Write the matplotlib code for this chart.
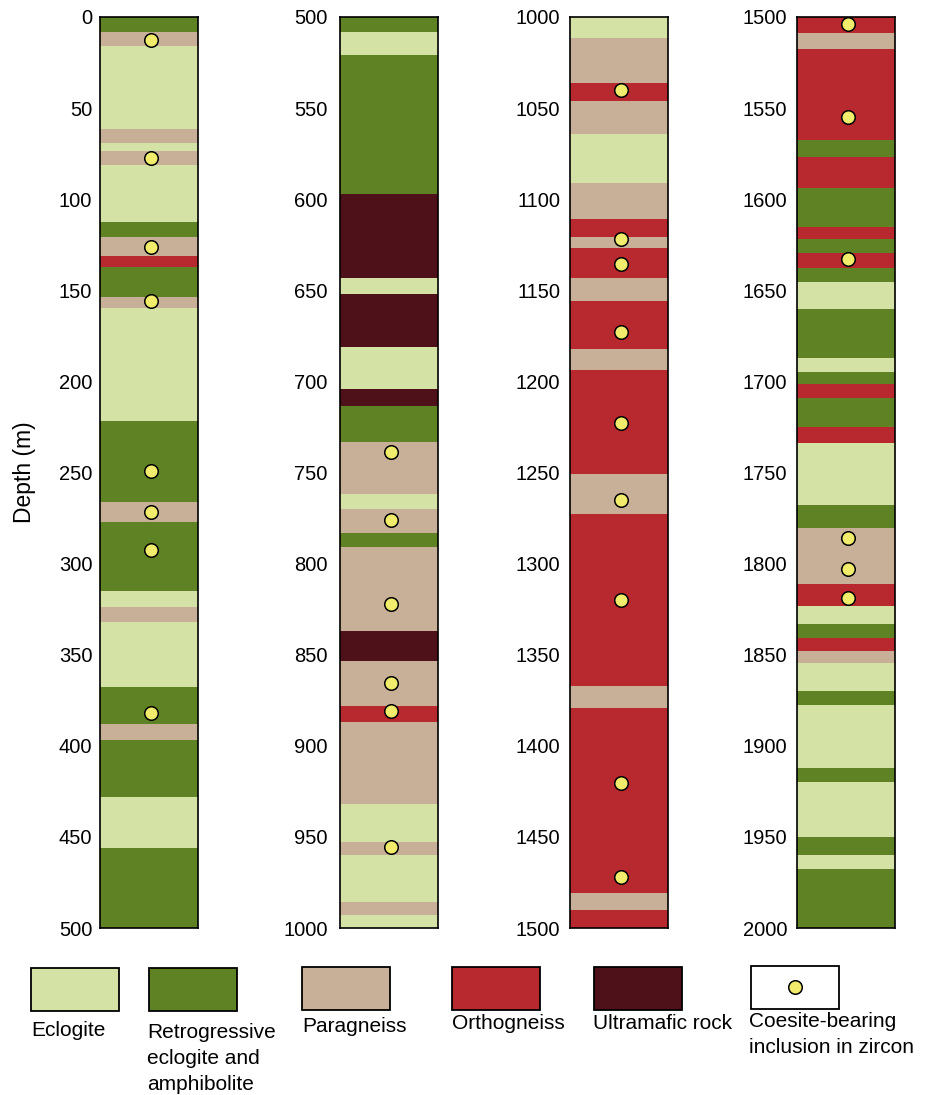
import matplotlib
matplotlib.use("Agg")
import matplotlib.pyplot as plt
from matplotlib.patches import Rectangle

plt.rcParams['font.family'] = ['Liberation Sans', 'DejaVu Sans']

# rock types: E eclogite, R retrogressive eclogite/amphibolite, P paragneiss,
# O orthogneiss, U ultramafic rock
rock_colors = {
    'E': '#d4e2a6',
    'R': '#5e8224',
    'P': '#c8b098',
    'O': '#b7282f',
    'U': '#4e111a',
}
rock_labels = {
    'E': 'Eclogite',
    'R': 'Retrogressive\neclogite and\namphibolite',
    'P': 'Paragneiss',
    'O': 'Orthogneiss',
    'U': 'Ultramafic rock',
}
dot_color = '#f1ec6b'
dot_label = 'Coesite-bearing\ninclusion in zircon'

# layer boundaries (depth, m) and rock of each layer, per column
col1_bounds = [0, 8, 15.7, 61.5, 69, 73.5, 81, 112.6, 121, 131, 137, 153.6, 159.6,
               222, 266, 277, 315, 324, 332, 368, 388, 397, 428, 456, 500]
col1_rocks = ['R', 'P', 'E', 'P', 'E', 'P', 'E', 'R', 'P', 'O', 'R', 'P', 'E',
              'R', 'P', 'R', 'E', 'P', 'E', 'R', 'P', 'R', 'E', 'R']
col1_dots = [12.6, 77.5, 126, 156, 249, 271.7, 292.5, 382]

col2_bounds = [500, 508, 521, 597, 643, 652, 681, 704, 713.5, 733, 762, 770, 783,
               791, 837, 853.5, 878, 887, 932, 953, 960, 986, 993, 1000]
col2_rocks = ['R', 'E', 'R', 'U', 'E', 'U', 'E', 'U', 'R', 'P', 'E', 'P', 'R',
              'P', 'U', 'P', 'O', 'P', 'E', 'P', 'E', 'P', 'E']
col2_dots = [739, 776, 822, 865.5, 881, 955.5]

col3_bounds = [1000, 1011.5, 1036, 1046, 1064, 1091, 1111, 1121, 1127, 1143, 1156,
               1182, 1194, 1251, 1273, 1367, 1379, 1481, 1490, 1500]
col3_rocks = ['E', 'P', 'O', 'P', 'E', 'P', 'O', 'P', 'O', 'P', 'O', 'P', 'O',
              'P', 'O', 'P', 'O', 'P', 'O']
col3_dots = [1040, 1122, 1135.5, 1173, 1223, 1265, 1320, 1420.5, 1472]

col4_bounds = [1500, 1509, 1517.5, 1567.5, 1577, 1594, 1615, 1622, 1629.5, 1638,
               1645.5, 1660, 1687, 1695, 1701.5, 1709, 1725, 1734, 1768, 1780.5,
               1811, 1823, 1833, 1841, 1848, 1854.5, 1870, 1877.6, 1912, 1920,
               1950, 1960, 1967.6, 2000]
col4_rocks = ['O', 'P', 'O', 'R', 'O', 'R', 'O', 'R', 'O', 'R',
              'E', 'R', 'E', 'R', 'O', 'R', 'O', 'E', 'R', 'P',
              'O', 'E', 'R', 'O', 'P', 'E', 'R', 'E', 'R', 'E',
              'R', 'E', 'R']
col4_dots = [1504, 1555, 1633, 1786, 1803, 1819]

columns = [
    (col1_bounds, col1_rocks, col1_dots),
    (col2_bounds, col2_rocks, col2_dots),
    (col3_bounds, col3_rocks, col3_dots),
    (col4_bounds, col4_rocks, col4_dots),
]

W, H = 930, 1095
fig = plt.figure(figsize=(W / 100, H / 100), dpi=100)

col_left = [100, 340, 570, 797]
tick_pad = [5.5, 9, 7, 7]
col_w = 98
top_px, bot_px = 17, 928

for i, (bounds, rocks, dots) in enumerate(columns):
    ax = fig.add_axes([col_left[i] / W, 1 - bot_px / H, col_w / W, (bot_px - top_px) / H])
    for j, r in enumerate(rocks):
        ax.bar(0.5, bounds[j + 1] - bounds[j], bottom=bounds[j], width=1,
               color=rock_colors[r], linewidth=0)
    ax.scatter([0.52] * len(dots), dots, s=95, color=dot_color,
               edgecolor='black', linewidth=1.1, zorder=3)
    ax.set_xlim(0, 1)
    ax.set_ylim(bounds[-1], bounds[0])
    ax.set_yticks(range(int(bounds[0]), int(bounds[-1]) + 1, 50))
    ax.set_xticks([])
    ax.tick_params(axis='y', length=0, pad=tick_pad[i], labelsize=14.5)
    for s in ax.spines.values():
        s.set_linewidth(1.2)
        s.set_color('black')

fig.text(25 / W, 1 - 472 / H, 'Depth (m)', rotation=90, ha='center', va='center',
         fontsize=16.5)

# legend drawn in pixel coordinates
lg = fig.add_axes([0, 0, 1, 1])
lg.set_xlim(0, W)
lg.set_ylim(H, 0)
lg.axis('off')
lg.patch.set_alpha(0)

leg_keys = ['E', 'R', 'P', 'O', 'U']
leg_box_x = [31, 149, 302, 452, 594]
leg_box_y = [968, 968, 967, 967, 967]
leg_text_x = [31, 147, 302, 452, 593]
leg_text_y = [1021, 1023, 1017, 1014, 1014]
for k, bx, by, tx, ty in zip(leg_keys, leg_box_x, leg_box_y, leg_text_x, leg_text_y):
    lg.add_patch(Rectangle((bx, by), 88, 43, facecolor=rock_colors[k],
                           edgecolor='black', linewidth=1.3))
    lg.text(tx, ty, rock_labels[k], ha='left', va='top', fontsize=15, linespacing=1.45)

lg.add_patch(Rectangle((751, 966), 88, 43, facecolor='white', edgecolor='black',
                       linewidth=1.3))
lg.scatter([795], [987], s=95, color=dot_color, edgecolor='black', linewidth=1.1)
lg.text(749, 1012, dot_label, ha='left', va='top', fontsize=15, linespacing=1.45)

fig.savefig('out.png', dpi=100)
